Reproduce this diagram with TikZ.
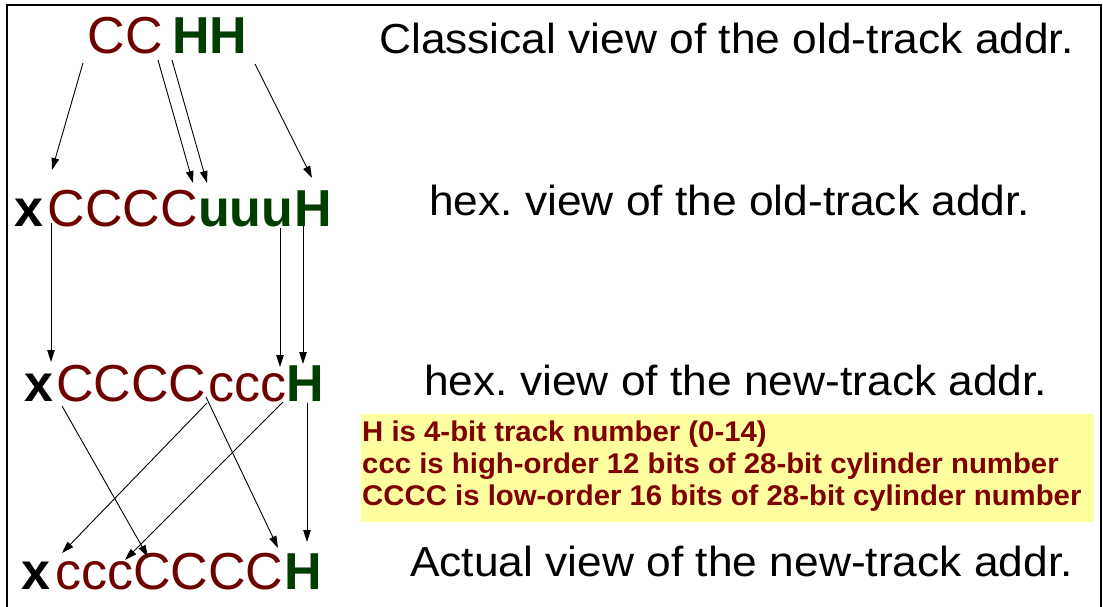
\documentclass[tikz,border=0pt]{standalone}
\usepackage{fontspec}
\setmainfont{Liberation Sans}
\usetikzlibrary{arrows.meta}
\definecolor{cred}{RGB}{110,0,0}
\definecolor{cgreen}{RGB}{0,62,0}
\definecolor{byellow}{RGB}{255,255,160}
\definecolor{bred}{RGB}{128,0,0}
\frenchspacing
\begin{document}
\begin{tikzpicture}[x=1pt,y=-1pt,
  glyph/.style={inner sep=0pt, anchor=base west, font=\fontsize{52}{58}\selectfont},
  cpart/.style={glyph, text=cred},
  hpart/.style={glyph, text=cgreen, font=\fontsize{52}{58}\selectfont\bfseries},
  xpart/.style={glyph, text=black, font=\fontsize{52}{58}\selectfont\bfseries},
  label/.style={inner sep=0pt, anchor=base west, font=\fontsize{42}{48}\selectfont},
  note/.style={inner sep=0pt, anchor=base west, text=bred, font=\fontsize{28.5}{33}\selectfont\bfseries},
  conn/.style={line width=0.9pt, -{Triangle[length=12pt,width=7.5pt]}},
  frame/.style={line width=1.4pt}
]
\useasboundingbox (0,0) rectangle (1103,607);
\draw[frame] (7,612) -- (7,5) -- (1101,5) -- (1101,612);

% yellow note box
\fill[byellow] (361,414) rectangle (1094,522);
\node[note] (n1) at (362,441) {\scalebox{1.03}[1]{H is 4-bit track number (0-14)}};
\node[note] (n2) at (362,473) {\scalebox{1.03}[1]{ccc is high-order 12 bits of 28-bit cylinder number}};
\node[note] (n3) at (362,505) {\scalebox{1.03}[1]{CCCC is low-order 16 bits of 28-bit cylinder number}};

% labels
\node[label] (l1) at (379,54) {\scalebox{1.055}[1]{Classical view of the old-track addr.}};
\node[label] (l2) at (429,215) {\scalebox{1.055}[1]{hex. view of the old-track addr.}};
\node[label] (l3) at (424,395) {\scalebox{1.055}[1]{hex. view of the new-track addr.}};
\node[label] (l4) at (410,576) {\scalebox{1.055}[1]{Actual view of the new-track addr.}};

% row 1
\node[cpart] (r1C) at (87.5,54) {CC};
\node[hpart] (r1H) at (172,54) {HH};
% row 2
\node[xpart] (r2x) at (14,226) {x};
\node[cpart] (r2C) at (47.5,226) {CCCC};
\node[hpart] (r2u) at (198,226) {uuu};
\node[hpart] (r2H) at (294,226) {H};
% row 3
\node[xpart] (r3x) at (24,401) {x};
\node[cpart] (r3C) at (56,401) {CCCC};
\node[cpart] (r3c) at (208,401) {ccc};
\node[hpart] (r3H) at (286,401) {H};
% row 4
\node[xpart] (r4x) at (21,589) {x};
\node[cpart] (r4c) at (55,589) {ccc};
\node[cpart] (r4C) at (133,589) {CCCC};
\node[hpart] (r4H) at (284,589) {H};

% connector end points
\coordinate (a1s) at (83,63);   \coordinate (a1e) at (52,170);
\coordinate (a2s) at (158,60);  \coordinate (a2e) at (193,183);
\coordinate (a3s) at (172,60);  \coordinate (a3e) at (207,183);
\coordinate (a4s) at (255,64);  \coordinate (a4e) at (312,178);
\coordinate (a5s) at (51,223);  \coordinate (a5e) at (51,362);
\coordinate (a6s) at (280,228); \coordinate (a6e) at (280,367);
\coordinate (a7s) at (303,226); \coordinate (a7e) at (303,364);
\coordinate (a8s) at (62,406);  \coordinate (a8e) at (148,557);
\coordinate (a9s) at (206,397); \coordinate (a9e) at (278,548);
\coordinate (a10s) at (207,403); \coordinate (a10e) at (62,553);
\coordinate (a11s) at (283,402); \coordinate (a11e) at (125,560);
\coordinate (a12s) at (307,403); \coordinate (a12e) at (307,542);

\foreach \i in {1,...,12} \draw[conn] (a\i s) -- (a\i e);
\end{tikzpicture}
\end{document}
